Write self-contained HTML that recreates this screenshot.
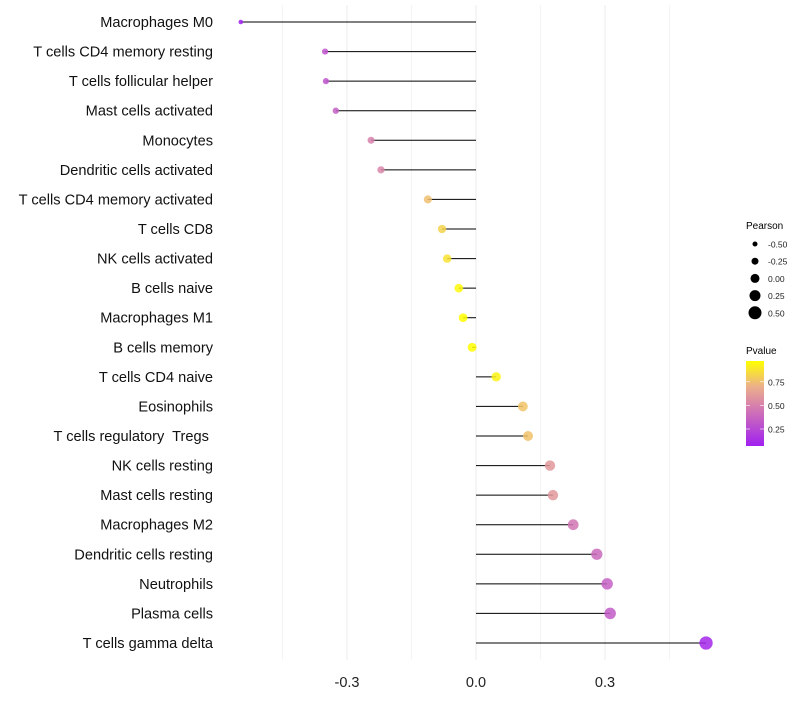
<!DOCTYPE html>
<html><head><meta charset="utf-8"><style>
body{margin:0;background:#fff;font-family:"Liberation Sans",sans-serif;}
svg text{font-family:"Liberation Sans",sans-serif;white-space:pre;}
</style></head><body>
<svg id="chart" width="800" height="700" xmlns="http://www.w3.org/2000/svg">
<defs><linearGradient id="pg" x1="0" y1="1" x2="0" y2="0">
<stop offset="0" stop-color="#A020F0"/><stop offset="0.45" stop-color="#D47BB0"/><stop offset="0.7" stop-color="#ECB08A"/><stop offset="1" stop-color="#FFFF00"/></linearGradient></defs>
<g id="grid"></g>
<g id="marks"></g>
<g id="labels"></g>
<g id="xticks"></g>
<g id="legS">
<text x="746" y="229" font-size="10" fill="#000">Pearson</text>
</g>
<g id="legP">
<text x="746" y="354" font-size="10" fill="#000">Pvalue</text>
<rect x="746" y="361" width="18" height="85" fill="url(#pg)"/>
</g>
</svg>
<script>
const categories=["Macrophages M0","T cells CD4 memory resting","T cells follicular helper","Mast cells activated","Monocytes","Dendritic cells activated","T cells CD4 memory activated","T cells CD8","NK cells activated","B cells naive","Macrophages M1","B cells memory","T cells CD4 naive","Eosinophils","T cells regulatory  Tregs ","NK cells resting","Mast cells resting","Macrophages M2","Dendritic cells resting","Neutrophils","Plasma cells","T cells gamma delta"];
const pearson=[-0.547,-0.351,-0.349,-0.326,-0.244,-0.221,-0.112,-0.079,-0.067,-0.040,-0.030,-0.009,0.047,0.109,0.121,0.172,0.179,0.226,0.281,0.305,0.312,0.535];
const pvalues=[0.07,0.3,0.3,0.35,0.5,0.52,0.75,0.82,0.87,0.95,0.97,0.97,0.93,0.77,0.76,0.6,0.6,0.45,0.4,0.35,0.33,0.1];
const xTicks=[-0.3,0.0,0.3];
const xTickLabels=["-0.3","0.0","0.3"];
const minorTicks=[-0.45,-0.15,0.15,0.45];
const sizeLegend=[-0.5,-0.25,0,0.25,0.5];
const sizeLegendLabels=["-0.50","-0.25","0.00","0.25","0.50"];
const pLegend=[0.25,0.5,0.75];
const ns="http://www.w3.org/2000/svg";
const xs=v=>476+v*430;
const ys=i=>22+i*(621/21);
const rs=v=>4.5+4*v;
const stops=[[0,[160,32,240]],[0.45,[212,123,176]],[0.7,[236,176,138]],[1,[255,255,0]]];
function col(p){let t=(p-0.07)/0.9;t=Math.max(0,Math.min(1,t));
for(let k=1;k<stops.length;k++){if(t<=stops[k][0]){const a=stops[k-1],b=stops[k];const f=(t-a[0])/(b[0]-a[0]);
return "rgb("+a[1].map((c,j)=>Math.round(c+(b[1][j]-c)*f)).join(",")+")";}}return "rgb(255,255,0)";}
function mk(tag,attrs,parent){const e=document.createElementNS(ns,tag);for(const k in attrs)e.setAttribute(k,attrs[k]);parent.appendChild(e);return e;}
const grid=document.getElementById('grid'),marks=document.getElementById('marks'),labels=document.getElementById('labels'),xt=document.getElementById('xticks');
minorTicks.forEach(v=>{const l=mk('line',{x1:xs(v),x2:xs(v),y1:5,y2:660,stroke:'#f4f4f4','stroke-width':1},grid);

});
xTicks.forEach((v,i)=>{const l=mk('line',{x1:xs(v),x2:xs(v),y1:5,y2:660,stroke:'#ebebeb','stroke-width':1},grid);


const t=mk('text',{x:xs(v),y:687,'font-size':14.5,'text-anchor':'middle',fill:'#222'},xt);t.textContent=xTickLabels[i];

});
categories.forEach((c,i)=>{const y=ys(i);
const t=mk('text',{x:213,y:y+5,'font-size':14.6,'text-anchor':'end',fill:'#111'},labels);t.textContent=c;


const l=mk('line',{x1:xs(0),x2:xs(pearson[i]),y1:y,y2:y,stroke:'#000','stroke-width':1},marks);


const d=mk('circle',{cx:xs(pearson[i]),cy:y,r:rs(pearson[i]),fill:col(pvalues[i]),'fill-opacity':0.85},marks);

});
const legS=document.getElementById('legS'),legP=document.getElementById('legP');
sizeLegend.forEach((v,i)=>{const y=244+i*17.2;
const c=mk('circle',{cx:755,cy:y,r:rs(v),fill:'#000'},legS);


const t=mk('text',{x:768,y:y+3.5,'font-size':8.5,fill:'#222'},legS);t.textContent=sizeLegendLabels[i];

});
pLegend.forEach(v=>{const y=446-(v-0.07)/0.9*85;
mk('line',{x1:746,x2:750,y1:y,y2:y,stroke:'#fff','stroke-width':0.6},legP);
mk('line',{x1:760,x2:764,y1:y,y2:y,stroke:'#fff','stroke-width':0.6},legP);
const t=mk('text',{x:768,y:y+3.5,'font-size':8.5,fill:'#222'},legP);t.textContent=v.toFixed(2);

});
</script>
</body></html>
